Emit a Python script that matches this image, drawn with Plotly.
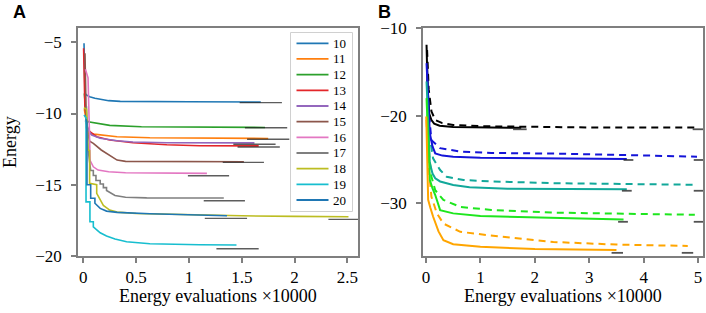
import plotly.graph_objects as go

W, H = 706, 313

# ---------------- Panel A data ----------------
a_names = ["10", "11", "12", "13", "14", "15", "16", "17", "18", "19", "20"]
a_colors = ["#1f77b4", "#ff7f0e", "#2ca02c", "#e3262a", "#9467bd", "#8c564b",
            "#e377c2", "#7f7f7f", "#bcbd22", "#17becf", "#1f77b4"]

s10_x = [0.007, 0.016, 0.03, 0.06, 0.11, 0.16, 0.24, 0.35, 0.6, 1.0, 1.68]
s10_y = [-5.07, -8.58, -8.70, -8.82, -8.93, -9.00, -9.10, -9.15, -9.17, -9.18, -9.19]

s11_x = [0.01, 0.03, 0.047, 0.1, 0.16, 0.32, 0.63, 1.0, 1.75]
s11_y = [-9.7, -10.8, -11.39, -11.45, -11.50, -11.63, -11.70, -11.73, -11.75]

s12_x = [0.01, 0.03, 0.047, 0.16, 0.25, 0.55, 0.79, 1.42, 1.72]
s12_y = [-8.6, -10.4, -10.58, -10.74, -10.83, -10.93, -10.95, -10.97, -10.98]

s13_x = [0.003, 0.015, 0.04, 0.063, 0.127, 0.25, 0.47, 0.79, 1.1, 1.66]
s13_y = [-5.42, -9.5, -11.0, -11.28, -11.63, -11.86, -12.05, -12.19, -12.26, -12.27]

s14_x = [0.02, 0.05, 0.08, 0.16, 0.32, 0.47, 0.79, 1.62]
s14_y = [-10.5, -11.2, -11.51, -11.74, -11.91, -12.00, -12.05, -12.06]

s15_x = [0.016, 0.03, 0.06, 0.095, 0.17, 0.24, 0.32, 0.4, 0.8, 1.52]
s15_y = [-5.77, -11.0, -11.95, -12.10, -12.56, -12.91, -13.27, -13.36, -13.38, -13.39]

s16_x = [0.02, 0.045, 0.065, 0.095, 0.14, 0.24, 0.4, 0.8, 1.17]
s16_y = [-6.9, -7.5, -13.3, -13.74, -13.97, -14.09, -14.16, -14.19, -14.20]

s17_x = [0.03, 0.045, 0.07, 0.095, 0.095, 0.12, 0.12, 0.16, 0.16, 0.19, 0.19, 0.22, 0.22,
         0.26, 0.3, 0.4, 0.6, 1.33]
s17_y = [-9.5, -12.5, -14.0, -14.0, -14.35, -14.35, -14.7, -14.7, -14.95, -14.95, -15.2,
         -15.2, -15.4, -15.6, -15.75, -15.88, -15.92, -15.93]

s18_x = [0.005, 0.03, 0.045, 0.06, 0.06, 0.11, 0.127, 0.127, 0.16, 0.19, 0.25, 0.32,
         0.5, 1.0, 1.5, 2.0, 2.51]
s18_y = [-9.6, -9.7, -12.56, -12.6, -14.9, -15.0, -15.0, -15.6, -16.1, -16.45, -16.78,
         -16.92, -17.02, -17.12, -17.18, -17.22, -17.25]

s19_x = [0.007, 0.026, 0.026, 0.038, 0.063, 0.063, 0.08, 0.095, 0.095, 0.127, 0.16, 0.22,
         0.3, 0.41, 0.63, 1.1, 1.45]
s19_y = [-10.1, -10.3, -16.2, -16.2, -16.2, -17.6, -17.6, -17.6, -17.95, -18.18, -18.37,
         -18.6, -18.81, -19.0, -19.14, -19.21, -19.23]

s20_x = [0.026, 0.035, 0.035, 0.07, 0.07, 0.11, 0.11, 0.16, 0.22, 0.32, 0.63, 1.1, 1.36]
s20_y = [-10.4, -10.6, -15.0, -15.0, -15.95, -15.95, -16.3, -16.66, -16.85, -16.94, -17.03,
         -17.1, -17.18]

a_ref_x0 = [1.48, 1.55, 1.53, 1.46, 1.42, 1.32, 0.99, 1.14, 2.32, 1.26, 1.15]
a_ref_x1 = [1.88, 1.95, 1.93, 1.86, 1.82, 1.71, 1.38, 1.53, 2.72, 1.66, 1.55]
a_ref_y = [-9.24, -11.81, -11.00, -12.35, -12.16, -13.43, -14.37, -16.12, -17.43, -19.49, -17.36]

a_series = [(s10_x, s10_y), (s11_x, s11_y), (s12_x, s12_y), (s13_x, s13_y), (s14_x, s14_y),
            (s15_x, s15_y), (s16_x, s16_y), (s17_x, s17_y), (s18_x, s18_y), (s19_x, s19_y),
            (s20_x, s20_y)]

# ---------------- Panel B data ----------------
b_colors = ["#000000", "#1414d8", "#12a89a", "#1ee61e", "#ffa500"]

bk_sol_x = [0.01, 0.03, 0.06, 0.10, 0.15, 0.25, 0.5, 1.0, 1.75]
bk_sol_y = [-11.9, -17.0, -19.8, -20.5, -20.9, -21.15, -21.3, -21.36, -21.38]
bk_das_x = [0.02, 0.05, 0.10, 0.17, 0.3, 0.5, 1.0, 2.0, 3.0, 4.98]
bk_das_y = [-12.5, -17.0, -19.5, -20.5, -20.85, -21.05, -21.2, -21.3, -21.34, -21.36]

bl_sol_x = [0.01, 0.04, 0.07, 0.12, 0.17, 0.3, 0.5, 1.0, 2.0, 3.69]
bl_sol_y = [-14.0, -19.0, -22.0, -23.5, -24.3, -24.55, -24.67, -24.8, -24.88, -24.94]
bl_das_x = [0.02, 0.05, 0.10, 0.26, 0.63, 1.2, 2.4, 3.5, 4.98]
bl_das_y = [-14.5, -19.5, -22.8, -23.7, -24.1, -24.25, -24.32, -24.5, -24.67]

tl_sol_x = [0.01, 0.04, 0.07, 0.12, 0.17, 0.26, 0.5, 0.8, 1.5, 3.69]
tl_sol_y = [-16.1, -21.5, -25.4, -26.6, -27.14, -27.5, -27.9, -28.17, -28.33, -28.4]
tl_das_x = [0.02, 0.06, 0.13, 0.26, 0.38, 0.69, 1.2, 2.4, 4.98]
tl_das_y = [-16.5, -22.0, -24.86, -26.2, -26.96, -27.34, -27.5, -27.7, -27.88]

gr_sol_x = [0.01, 0.04, 0.07, 0.12, 0.17, 0.26, 0.5, 1.0, 2.0, 3.63]
gr_sol_y = [-18.0, -24.0, -27.3, -28.3, -29.05, -30.77, -31.14, -31.45, -31.6, -31.83]
gr_das_x = [0.02, 0.06, 0.10, 0.17, 0.32, 0.63, 1.2, 2.3, 4.94]
gr_das_y = [-18.5, -24.5, -26.96, -28.5, -29.6, -30.4, -30.75, -31.05, -31.3]

or_sol_x = [0.005, 0.04, 0.08, 0.13, 0.23, 0.32, 0.5, 1.0, 2.0, 3.5]
or_sol_y = [-20.1, -29.6, -30.5, -31.5, -33.2, -34.2, -34.65, -34.95, -35.2, -35.33]
or_das_x = [0.01, 0.05, 0.10, 0.20, 0.32, 0.63, 1.1, 2.34, 3.5, 4.81]
or_das_y = [-20.5, -26.0, -29.25, -31.14, -32.3, -33.24, -33.6, -34.4, -34.7, -34.85]

b_solid = [(bk_sol_x, bk_sol_y), (bl_sol_x, bl_sol_y), (tl_sol_x, tl_sol_y),
           (gr_sol_x, gr_sol_y), (or_sol_x, or_sol_y)]
b_dashed = [(bk_das_x, bk_das_y), (bl_das_x, bl_das_y), (tl_das_x, tl_das_y),
            (gr_das_x, gr_das_y), (or_das_x, or_das_y)]

b_ref_sol_x0 = [1.60, 3.63, 3.60, 3.53, 3.41]
b_ref_sol_x1 = [1.85, 3.81, 3.78, 3.71, 3.62]
b_ref_das_x0 = [4.90, 4.92, 4.92, 4.92, 4.70]
b_ref_das_x1 = [5.20, 5.20, 5.20, 5.20, 4.91]
b_ref_y = [-21.55, -25.05, -28.56, -32.10, -35.64]

a_xticks = [0, 0.5, 1, 1.5, 2, 2.5]
a_yticks = [-20, -15, -10, -5]
b_xticks = [0, 1, 2, 3, 4, 5]
b_yticks = [-30, -20, -10]

# ---------------- Figure ----------------
fig = go.Figure()

for (xs, ys), c, n in zip(a_series, a_colors, a_names):
    fig.add_trace(go.Scatter(x=xs, y=ys, mode="lines", name=n,
                             line=dict(color=c, width=1.6), showlegend=False,
                             xaxis="x", yaxis="y"))
for x0, x1, y in zip(a_ref_x0, a_ref_x1, a_ref_y):
    fig.add_trace(go.Scatter(x=[x0, x1], y=[y, y], mode="lines",
                             line=dict(color="rgba(30,30,30,0.72)", width=1.4),
                             showlegend=False, xaxis="x", yaxis="y"))

for (xs, ys), c in zip(b_dashed, b_colors):
    fig.add_trace(go.Scatter(x=xs, y=ys, mode="lines",
                             line=dict(color=c, width=2, dash="7px,5px"),
                             showlegend=False, xaxis="x2", yaxis="y2"))
for (xs, ys), c in zip(b_solid, b_colors):
    fig.add_trace(go.Scatter(x=xs, y=ys, mode="lines",
                             line=dict(color=c, width=2),
                             showlegend=False, xaxis="x2", yaxis="y2"))
for x0, x1, y in zip(b_ref_sol_x0 + b_ref_das_x0, b_ref_sol_x1 + b_ref_das_x1, b_ref_y + b_ref_y):
    fig.add_trace(go.Scatter(x=[x0, x1], y=[y, y], mode="lines",
                             line=dict(color="rgba(40,40,40,0.8)", width=1.8),
                             showlegend=False, xaxis="x2", yaxis="y2"))

tickfont = dict(family="Liberation Serif", size=17, color="black")
axis_common = dict(showline=True, mirror=True, linecolor="#7f7f7f", linewidth=1.5,
                   ticks="outside", ticklen=5, tickwidth=1.5, tickcolor="#7f7f7f",
                   showgrid=False, zeroline=False, tickfont=tickfont, automargin=False)

def px(X):
    return X / W

def py(Y):
    return 1 - Y / H

fig.update_layout(
    template="none",
    width=W, height=H, margin=dict(l=0, r=0, t=0, b=0, pad=0),
    paper_bgcolor="white", plot_bgcolor="white", showlegend=False,
    xaxis=dict(domain=[px(78), px(358)], range=[-0.05, 2.60], tickvals=a_xticks,
               anchor="y", **axis_common),
    yaxis=dict(domain=[py(256), py(28)], range=[-20, -4], tickvals=a_yticks,
               anchor="x", ticklabelstandoff=6, **axis_common),
    xaxis2=dict(domain=[px(423), px(703)], range=[-0.055, 5.09], tickvals=b_xticks,
                anchor="y2", **axis_common),
    yaxis2=dict(domain=[py(256), py(28)], range=[-36, -10], tickvals=b_yticks,
                anchor="x2", ticklabelstandoff=6, **axis_common),
)

annots = [
    dict(text="<b>A</b>", x=px(11), y=py(0), xanchor="left", yanchor="top",
         font=dict(family="Liberation Sans", size=18, color="black")),
    dict(text="<b>B</b>", x=px(376), y=py(0), xanchor="left", yanchor="top",
         font=dict(family="Liberation Sans", size=18, color="black")),
    dict(text="Energy evaluations ×10000", x=px(218), y=py(296), xanchor="center",
         yanchor="middle", font=dict(family="Liberation Serif", size=18, color="black")),
    dict(text="Energy evaluations ×10000", x=px(563), y=py(296), xanchor="center",
         yanchor="middle", font=dict(family="Liberation Serif", size=18, color="black")),
    dict(text="Energy", x=px(10), y=py(142), xanchor="center", yanchor="middle",
         textangle=-90, font=dict(family="Liberation Serif", size=18, color="black")),
]

# manual legend (panel A)
shapes = [dict(type="rect", xref="paper", yref="paper", x0=px(290.5), x1=px(352.5),
               y0=py(211.5), y1=py(32.5), line=dict(color="#d0d0d0", width=1),
               fillcolor="rgba(255,255,255,0.9)", layer="above")]
for i, (n, c) in enumerate(zip(a_names, a_colors)):
    Y = 43.3 + i * 15.67
    shapes.append(dict(type="line", xref="paper", yref="paper", x0=px(296.5), x1=px(328.5),
                       y0=py(Y), y1=py(Y), line=dict(color=c, width=1.8), layer="above"))
    annots.append(dict(text=n, x=px(331), y=py(Y), xanchor="left", yanchor="middle",
                       font=dict(family="Liberation Serif", size=13, color="black")))

for a in annots:
    a.update(xref="paper", yref="paper", showarrow=False)
fig.update_layout(annotations=annots, shapes=shapes)

fig.write_html("out.html", config={"displayModeBar": False},
               post_script="document.body.style.margin='0';document.body.style.overflow='hidden';")
